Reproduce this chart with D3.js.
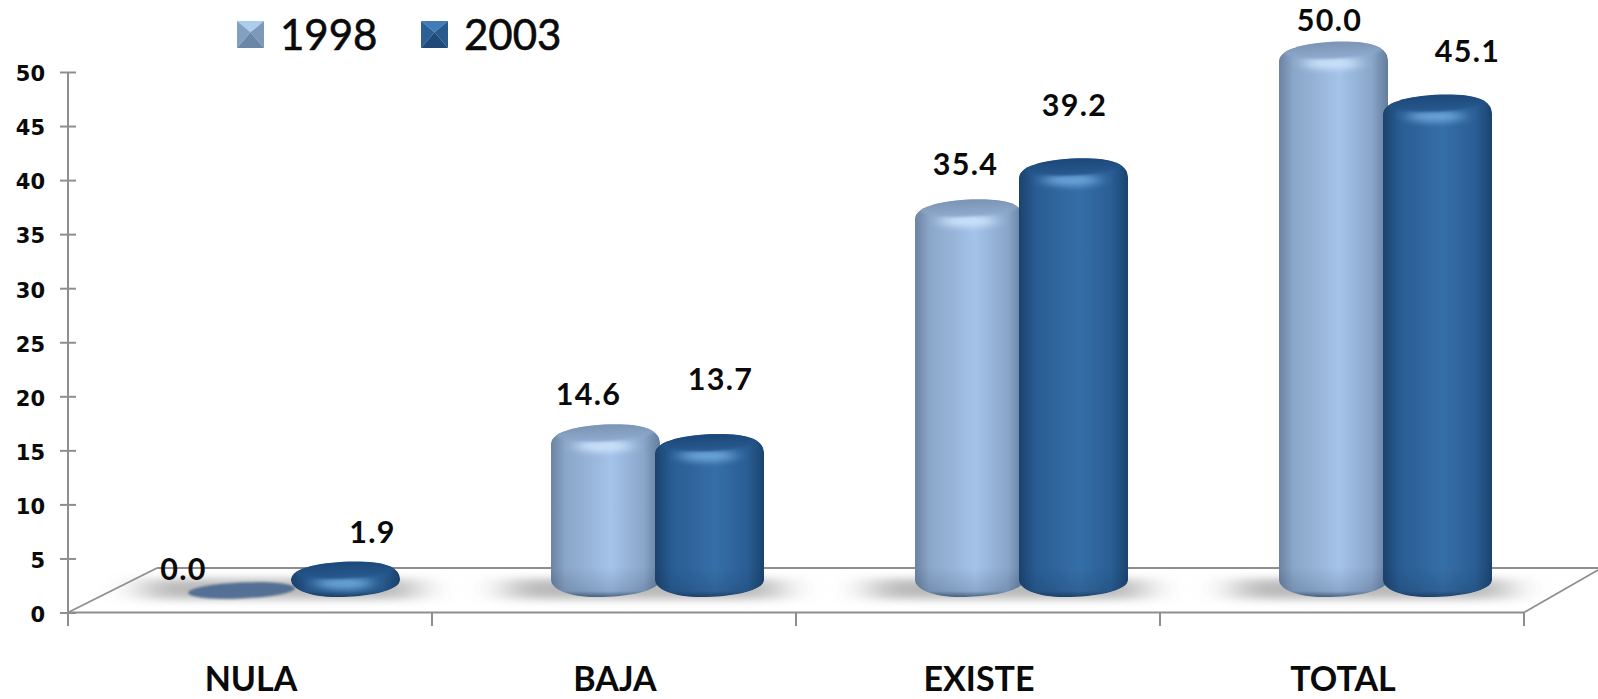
<!DOCTYPE html>
<html>
<head>
<meta charset="utf-8">
<script src="https://cdn.jsdelivr.net/npm/d3@7"></script>
<style>
html,body{margin:0;padding:0;background:#fff;overflow:hidden}
svg{display:block}
text{font-family:Lato,"Open Sans",sans-serif;fill:#0a0a0a}
</style>
</head>
<body>
<svg id="chart" width="1598" height="699"></svg>
<script>
const categories = ["NULA", "BAJA", "EXISTE", "TOTAL"];
const seriesNames = ["1998", "2003"];
const values1998 = [0.0, 14.6, 35.4, 50.0];
const values2003 = [1.9, 13.7, 39.2, 45.1];
const yTicks = [0, 5, 10, 15, 20, 25, 30, 35, 40, 45, 50];

const W = 1598, H = 699;
const svg = d3.select("#chart").attr("viewBox", [0, 0, W, H]);
const defs = svg.append("defs");

const y = d3.scaleLinear().domain([0, 50]).range([612.5, 72]);
const x0 = d3.scaleBand().domain(categories).range([68, 1524]);
const barW = 109, overlap = 5, depthOffset = 119;
const x1 = d3.scalePoint().domain(seriesNames).range([depthOffset, depthOffset + barW - overlap]);
const liftTop = 30.5, baseY = y(0) - 15.5, capRy = 8.5, tilt = -2.5;

const palette = {
  "1998": {body: [["0", "#6c83a1"], [".13", "#8aa5c7"], [".55", "#a4c3e9"], [".85", "#8aa6c9"], ["1", "#627d9c"]],
           cap: ["#7a92b2", "#8fabcf"], flat: "#4f6c92", hi: "#cfe4fb"},
  "2003": {body: [["0", "#1b426d"], [".15", "#295c92"], [".55", "#356fa7"], [".85", "#2a5e94"], ["1", "#1a436e"]],
           cap: ["#1c4778", "#28598f"], flat: "#1f4f85", hi: "#6fa8dc"}
};

seriesNames.forEach(s => {
  const p = palette[s];
  const g = defs.append("linearGradient").attr("id", "body" + s);
  p.body.forEach(d => g.append("stop").attr("offset", d[0]).attr("stop-color", d[1]));
  const c = defs.append("linearGradient").attr("id", "cap" + s).attr("x2", 0).attr("y2", 1);
  c.append("stop").attr("offset", 0).attr("stop-color", p.cap[0]);
  c.append("stop").attr("offset", 1).attr("stop-color", p.cap[1]);
});
const bot = defs.append("linearGradient").attr("id", "bottomShade").attr("x2", 0).attr("y2", 1);
bot.append("stop").attr("offset", 0).attr("stop-color", "#10243f").attr("stop-opacity", 0);
bot.append("stop").attr("offset", .8).attr("stop-color", "#10243f").attr("stop-opacity", .16);
bot.append("stop").attr("offset", 1).attr("stop-color", "#10243f").attr("stop-opacity", .6);
defs.append("filter").attr("id", "blurBig").attr("x", "-30%").attr("y", "-150%").attr("width", "160%").attr("height", "400%")
  .append("feGaussianBlur").attr("stdDeviation", "20 4");
defs.append("filter").attr("id", "blurSmall").attr("x", "-40%").attr("y", "-80%").attr("width", "180%").attr("height", "260%")
  .append("feGaussianBlur").attr("stdDeviation", "8 3");
defs.append("filter").attr("id", "blurTiny").attr("x", "-5%").attr("y", "-10%").attr("width", "110%").attr("height", "120%")
  .append("feGaussianBlur").attr("stdDeviation", "0.8");

// floor frame
const front = y(0), back = 568, frontL = x0.range()[0], frontR = x0.range()[1];
const axisCol = "#8e8e8e";
const floor = svg.append("g");

// floor shadows
floor.selectAll("rect.shadow").data(categories).join("rect").attr("class", "shadow")
  .attr("x", d => x0(d) + 76)
  .attr("width", 272)
  .attr("y", 579).attr("height", 20)
  .attr("fill", "#adadad").attr("opacity", .85)
  .attr("filter", "url(#blurBig)");

floor.append("line").attr("x1", frontL + 89).attr("y1", back).attr("x2", W).attr("y2", back)
  .attr("stroke", axisCol).attr("stroke-width", 2);
floor.append("line").attr("x1", frontL).attr("y1", front).attr("x2", frontL + 89).attr("y2", back)
  .attr("stroke", axisCol).attr("stroke-width", 1.6);
floor.append("line").attr("x1", frontR).attr("y1", front).attr("x2", W).attr("y2", back + 2)
  .attr("stroke", axisCol).attr("stroke-width", 1.6);

// axes
floor.append("line").attr("x1", frontL).attr("x2", frontR).attr("y1", front).attr("y2", front)
  .attr("stroke", axisCol).attr("stroke-width", 2);
floor.selectAll("line.xtick").data(categories.concat(["end"])).join("line").attr("class", "xtick")
  .attr("x1", (d, i) => frontL + i * x0.bandwidth())
  .attr("x2", (d, i) => frontL + i * x0.bandwidth())
  .attr("y1", front).attr("y2", 626)
  .attr("stroke", axisCol).attr("stroke-width", 2);

const yAxisG = svg.append("g").attr("transform", `translate(${frontL},0)`)
  .call(d3.axisLeft(y).tickValues(yTicks).tickSize(8).tickPadding(15));
yAxisG.select(".domain").remove();
yAxisG.selectAll(".tick line").attr("x1", -8).attr("x2", 8).attr("stroke", axisCol).attr("stroke-width", 2);
yAxisG.selectAll(".tick text")
  .style("font-family", "'DejaVu Sans'").style("font-weight", 700).style("font-size", "21px")
  .attr("dy", "0.42em").attr("fill", "#0a0a0a");
svg.append("line").attr("x1", frontL).attr("x2", frontL).attr("y1", y(50)).attr("y2", 626)
  .attr("stroke", axisCol).attr("stroke-width", 2);

// category labels
svg.selectAll("text.cat").data(categories).join("text").attr("class", "cat")
  .attr("x", d => x0(d) + x0.bandwidth() / 2 + 1)
  .attr("y", 691)
  .attr("text-anchor", "middle")
  .style("font-size", "34px").style("font-weight", 700)
  .text(d => d);

// cylinders
function cylinderPath(l, r, t, b) {
  const h = b - t, sh = Math.min(19, h / 2), w = r - l, bo = Math.min(17, h / 2);
  return `M${l},${b - bo}L${l},${t + sh}` +
    `C${l},${t + sh * .35} ${l + w * .3},${t} ${l + w * .58},${t}` +
    `C${r - w * .14},${t} ${r},${t + sh * .3} ${r},${t + sh}` +
    `L${r},${b - bo}` +
    `C${r},${b - bo * .35} ${r - w * .3},${b} ${l + w * .42},${b}` +
    `C${l + w * .16},${b} ${l},${b - bo * .45} ${l},${b - bo}Z`;
}

const rows = [];
categories.forEach((c, i) => {
  rows.push({cat: c, s: "1998", v: values1998[i]});
  rows.push({cat: c, s: "2003", v: values2003[i]});
});

const barsG = svg.append("g");
rows.forEach((d, i) => {
  const left = x0(d.cat) + x1(d.s);
  const right = left + barW;
  const top = y(d.v) - liftTop;
  const cx = (left + right) / 2;
  const g = barsG.append("g");
  if (d.v === 0) {
    g.append("ellipse").attr("cx", cx).attr("cy", top + 8.5).attr("rx", barW / 2 - 1).attr("ry", 8)
      .attr("fill", palette[d.s].flat)
      .attr("opacity", .95)
      .attr("filter", "url(#blurTiny)")
      .attr("transform", `rotate(${tilt} ${cx} ${top + 8.5})`);
    return;
  }
  const id = "clip" + i;
  const path = cylinderPath(left, right, top, baseY);
  defs.append("clipPath").attr("id", id).append("path").attr("d", path);
  const inner = g.append("g").attr("clip-path", `url(#${id})`);
  inner.append("path").attr("d", path).attr("fill", `url(#body${d.s})`);
  inner.append("rect").attr("x", left).attr("width", barW)
    .attr("y", Math.max(top, baseY - 30)).attr("height", Math.min(30, baseY - top))
    .attr("fill", "url(#bottomShade)");
  // highlight below the rim
  inner.append("ellipse").attr("cx", cx - 2).attr("cy", top + 22).attr("rx", barW * .26).attr("ry", 6)
    .attr("fill", palette[d.s].hi).attr("opacity", .9).attr("filter", "url(#blurSmall)");
  // top cap
  inner.append("ellipse").attr("cx", cx).attr("cy", top + capRy - .5).attr("rx", barW * .46).attr("ry", capRy + .5)
    .attr("fill", `url(#cap${d.s})`)
    .attr("filter", "url(#blurTiny)")
    .attr("transform", `rotate(${tilt} ${cx} ${top + capRy})`);
});

// value labels, nudged by hand around each bar as in the original
const labelNudge = {
  "NULA1998": [-58, -2], "NULA2003": [27, -18],
  "BAJA1998": [-17, -19], "BAJA2003": [11, -44],
  "EXISTE1998": [-4, -24], "EXISTE2003": [1, -42],
  "TOTAL1998": [-4, -11], "TOTAL2003": [30, -32]
};
svg.selectAll("text.val").data(rows).join("text").attr("class", "val")
  .attr("x", d => x0(d.cat) + x1(d.s) + barW / 2 + labelNudge[d.cat + d.s][0])
  .attr("y", d => y(d.v) - liftTop + labelNudge[d.cat + d.s][1])
  .attr("text-anchor", "middle")
  .style("font-size", "30.5px").style("font-weight", 700).style("letter-spacing", "1.3px")
  .text(d => d.v.toFixed(1));

// legend
const legendX = d3.scaleOrdinal().domain(seriesNames).range([237, 421]);
const legend = svg.selectAll("g.leg").data(seriesNames).join("g").attr("class", "leg")
  .attr("transform", d => `translate(${legendX(d)},21)`);
const S = 27, apex = [S / 2, S * .42];
const swatch = {
  "1998": {top: "#abcdee", left: "#84a0c0", right: "#7d98b8", bottom: "#6b87a8"},
  "2003": {top: "#3f7cb9", left: "#2c5f95", right: "#285a8e", bottom: "#1f4a78"}
};
const tris = [
  {k: "top", pts: [[0, 0], [S, 0], apex]},
  {k: "left", pts: [[0, 0], apex, [0, S]]},
  {k: "right", pts: [[S, 0], [S, S], apex]},
  {k: "bottom", pts: [[0, S], apex, [S, S]]}
];
legend.each(function (s) {
  d3.select(this).selectAll("polygon").data(tris).join("polygon")
    .attr("points", t => t.pts.join(" "))
    .attr("fill", t => swatch[s][t.k]);
});
legend.append("text").attr("x", 43).attr("y", 29)
  .style("font-size", "42px").style("font-weight", 400)
  .style("stroke", "#0a0a0a").style("stroke-width", .6)
  .text(d => d);
</script>
</body>
</html>
